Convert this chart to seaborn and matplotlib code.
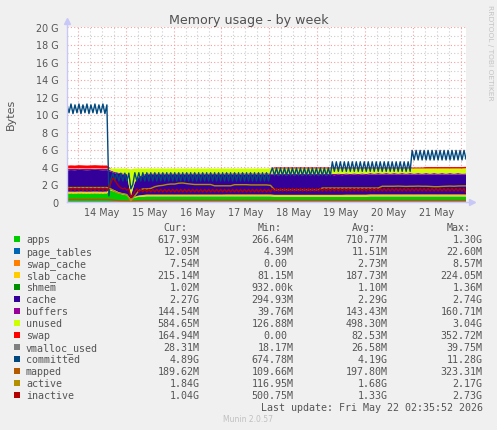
import numpy as np
import pandas as pd
import matplotlib
matplotlib.use("Agg")
import matplotlib.pyplot as plt
import matplotlib.dates as mdates
from matplotlib.patches import Rectangle
from matplotlib.ticker import FixedLocator, FixedFormatter, FuncFormatter
import seaborn as sns

# ------------------------------------------------------------------ data
start_time = "2026-05-13 18:35:52"   # week window: 200 hours ending at last update

# stacked areas, one value every 2 hours (GB)
apps = [
    0.95, 0.96, 0.95, 0.97, 0.96, 0.95, 0.96, 0.97, 0.96, 0.95,
    0.97, 1.30, 1.15, 0.95, 0.85, 0.75, 0.27, 0.50, 0.58, 0.60,
    0.64, 0.64, 0.64, 0.64, 0.64, 0.64, 0.64, 0.64, 0.64, 0.64,
    0.64, 0.64, 0.64, 0.64, 0.64, 0.64, 0.64, 0.64, 0.64, 0.64,
    0.64, 0.64, 0.64, 0.64, 0.64, 0.64, 0.64, 0.64, 0.64, 0.64,
    0.64, 0.64, 0.60, 0.60, 0.60, 0.60, 0.60, 0.60, 0.60, 0.60,
    0.60, 0.60, 0.60, 0.60, 0.60, 0.60, 0.60, 0.60, 0.60, 0.60,
    0.60, 0.60, 0.60, 0.60, 0.60, 0.60, 0.63, 0.63, 0.63, 0.63,
    0.63, 0.63, 0.63, 0.63, 0.63, 0.63, 0.63, 0.63, 0.63, 0.63,
    0.63, 0.63, 0.63, 0.63, 0.63, 0.63, 0.63, 0.63, 0.63, 0.63,
    0.62]
page_tables = [
    0.020, 0.020, 0.020, 0.020, 0.020, 0.020, 0.020, 0.020, 0.020, 0.020,
    0.020, 0.016, 0.014, 0.013, 0.012, 0.011, 0.005, 0.009, 0.011, 0.012,
    0.012, 0.012, 0.012, 0.012, 0.012, 0.012, 0.012, 0.012, 0.012, 0.012,
    0.012, 0.012, 0.012, 0.012, 0.012, 0.012, 0.012, 0.012, 0.012, 0.012,
    0.012, 0.012, 0.012, 0.012, 0.012, 0.012, 0.012, 0.012, 0.012, 0.012,
    0.012, 0.012, 0.012, 0.012, 0.012, 0.012, 0.012, 0.012, 0.012, 0.012,
    0.012, 0.012, 0.012, 0.012, 0.012, 0.012, 0.012, 0.012, 0.012, 0.012,
    0.012, 0.012, 0.012, 0.012, 0.012, 0.012, 0.012, 0.012, 0.012, 0.012,
    0.012, 0.012, 0.012, 0.012, 0.012, 0.012, 0.012, 0.012, 0.012, 0.012,
    0.012, 0.012, 0.012, 0.012, 0.012, 0.012, 0.012, 0.012, 0.012, 0.012,
    0.012]
swap_cache = [
    0.001, 0.001, 0.001, 0.001, 0.001, 0.001, 0.001, 0.001, 0.001, 0.001,
    0.001, 0.002, 0.003, 0.003, 0.004, 0.004, 0.003, 0.004, 0.005, 0.005,
    0.005, 0.005, 0.005, 0.005, 0.005, 0.005, 0.005, 0.005, 0.005, 0.005,
    0.005, 0.005, 0.005, 0.005, 0.005, 0.005, 0.005, 0.005, 0.005, 0.005,
    0.005, 0.005, 0.005, 0.005, 0.005, 0.005, 0.005, 0.005, 0.005, 0.005,
    0.005, 0.005, 0.005, 0.005, 0.005, 0.005, 0.005, 0.005, 0.005, 0.005,
    0.005, 0.005, 0.005, 0.005, 0.005, 0.005, 0.005, 0.005, 0.005, 0.005,
    0.005, 0.005, 0.005, 0.005, 0.005, 0.005, 0.005, 0.005, 0.005, 0.005,
    0.005, 0.005, 0.005, 0.005, 0.005, 0.005, 0.005, 0.005, 0.005, 0.005,
    0.006, 0.006, 0.006, 0.006, 0.006, 0.006, 0.006, 0.006, 0.006, 0.006,
    0.0075]
slab_cache = [
    0.20, 0.20, 0.20, 0.20, 0.20, 0.20, 0.20, 0.20, 0.20, 0.20,
    0.20, 0.19, 0.17, 0.15, 0.13, 0.12, 0.08, 0.10, 0.15, 0.18,
    0.19, 0.19, 0.19, 0.19, 0.19, 0.19, 0.19, 0.19, 0.19, 0.19,
    0.19, 0.19, 0.19, 0.19, 0.19, 0.19, 0.19, 0.19, 0.19, 0.19,
    0.20, 0.20, 0.20, 0.20, 0.20, 0.20, 0.20, 0.20, 0.20, 0.20,
    0.20, 0.20, 0.20, 0.20, 0.20, 0.20, 0.20, 0.20, 0.20, 0.20,
    0.20, 0.20, 0.20, 0.20, 0.20, 0.20, 0.20, 0.20, 0.20, 0.20,
    0.215, 0.215, 0.215, 0.215, 0.215, 0.215, 0.215, 0.215, 0.215, 0.215,
    0.215, 0.215, 0.215, 0.215, 0.215, 0.215, 0.215, 0.215, 0.215, 0.215,
    0.215, 0.215, 0.215, 0.215, 0.215, 0.215, 0.215, 0.215, 0.215, 0.215,
    0.215]
shmem = [
    0.001, 0.001, 0.001, 0.001, 0.001, 0.001, 0.001, 0.001, 0.001, 0.001,
    0.001, 0.001, 0.001, 0.001, 0.001, 0.001, 0.001, 0.001, 0.001, 0.001,
    0.001, 0.001, 0.001, 0.001, 0.001, 0.001, 0.001, 0.001, 0.001, 0.001,
    0.001, 0.001, 0.001, 0.001, 0.001, 0.001, 0.001, 0.001, 0.001, 0.001,
    0.001, 0.001, 0.001, 0.001, 0.001, 0.001, 0.001, 0.001, 0.001, 0.001,
    0.001, 0.001, 0.001, 0.001, 0.001, 0.001, 0.001, 0.001, 0.001, 0.001,
    0.001, 0.001, 0.001, 0.001, 0.001, 0.001, 0.001, 0.001, 0.001, 0.001,
    0.001, 0.001, 0.001, 0.001, 0.001, 0.001, 0.001, 0.001, 0.001, 0.001,
    0.001, 0.001, 0.001, 0.001, 0.001, 0.001, 0.001, 0.001, 0.001, 0.001,
    0.001, 0.001, 0.001, 0.001, 0.001, 0.001, 0.001, 0.001, 0.001, 0.001,
    0.001]
cache = [
    2.45, 2.47, 2.46, 2.48, 2.47, 2.46, 2.47, 2.48, 2.47, 2.46,
    2.45, 1.95, 1.95, 2.10, 2.15, 2.20, 0.30, 1.60, 2.05, 2.15,
    2.30, 2.24, 2.30, 2.24, 2.30, 2.24, 2.30, 2.24, 2.30, 2.24,
    2.30, 2.24, 2.30, 2.24, 2.30, 2.24, 2.30, 2.24, 2.30, 2.24,
    2.30, 2.24, 2.30, 2.24, 2.30, 2.24, 2.30, 2.24, 2.30, 2.24,
    2.30, 2.24, 2.30, 2.24, 2.30, 2.24, 2.30, 2.24, 2.30, 2.24,
    2.30, 2.24, 2.30, 2.24, 2.30, 2.24, 2.30, 2.24, 2.30, 2.24,
    2.30, 2.24, 2.30, 2.24, 2.30, 2.24, 2.30, 2.24, 2.30, 2.24,
    2.30, 2.24, 2.30, 2.24, 2.30, 2.24, 2.30, 2.24, 2.30, 2.24,
    2.30, 2.24, 2.30, 2.24, 2.30, 2.24, 2.30, 2.24, 2.30, 2.24,
    2.27]
buffers = [
    0.155, 0.155, 0.155, 0.155, 0.155, 0.155, 0.155, 0.155, 0.155, 0.155,
    0.155, 0.150, 0.140, 0.130, 0.120, 0.110, 0.040, 0.080, 0.120, 0.130,
    0.145, 0.145, 0.145, 0.145, 0.145, 0.145, 0.145, 0.145, 0.145, 0.145,
    0.145, 0.145, 0.145, 0.145, 0.145, 0.145, 0.145, 0.145, 0.145, 0.145,
    0.145, 0.145, 0.145, 0.145, 0.145, 0.145, 0.145, 0.145, 0.145, 0.145,
    0.145, 0.145, 0.145, 0.145, 0.145, 0.145, 0.145, 0.145, 0.145, 0.145,
    0.145, 0.145, 0.145, 0.145, 0.145, 0.145, 0.145, 0.145, 0.145, 0.145,
    0.145, 0.145, 0.145, 0.145, 0.145, 0.145, 0.145, 0.145, 0.145, 0.145,
    0.145, 0.145, 0.145, 0.145, 0.145, 0.145, 0.145, 0.145, 0.145, 0.145,
    0.145, 0.145, 0.145, 0.145, 0.145, 0.145, 0.145, 0.145, 0.145, 0.145,
    0.145]
unused = [
    0.05, 0.05, 0.05, 0.05, 0.05, 0.05, 0.05, 0.05, 0.05, 0.05,
    0.05, 0.22, 0.40, 0.48, 0.56, 0.63, 3.04, 1.54, 0.91, 0.75,
    0.54, 0.60, 0.54, 0.60, 0.54, 0.60, 0.54, 0.60, 0.54, 0.60,
    0.54, 0.60, 0.54, 0.60, 0.54, 0.60, 0.54, 0.60, 0.54, 0.60,
    0.53, 0.59, 0.53, 0.59, 0.53, 0.59, 0.53, 0.59, 0.53, 0.59,
    0.53, 0.59, 0.57, 0.63, 0.57, 0.63, 0.57, 0.63, 0.57, 0.63,
    0.57, 0.63, 0.57, 0.63, 0.57, 0.63, 0.57, 0.63, 0.57, 0.63,
    0.55, 0.61, 0.55, 0.61, 0.55, 0.61, 0.52, 0.58, 0.52, 0.58,
    0.52, 0.58, 0.52, 0.58, 0.52, 0.58, 0.52, 0.58, 0.52, 0.58,
    0.52, 0.58, 0.52, 0.58, 0.52, 0.58, 0.52, 0.58, 0.52, 0.58,
    0.585]
swap = [
    0.33, 0.33, 0.33, 0.33, 0.33, 0.33, 0.33, 0.33, 0.33, 0.33,
    0.33, 0.00, 0.00, 0.00, 0.00, 0.00, 0.00, 0.00, 0.00, 0.00,
    0.00, 0.00, 0.00, 0.00, 0.00, 0.00, 0.00, 0.00, 0.00, 0.00,
    0.00, 0.00, 0.00, 0.00, 0.00, 0.00, 0.00, 0.00, 0.00, 0.00,
    0.00, 0.00, 0.00, 0.00, 0.00, 0.00, 0.00, 0.00, 0.00, 0.00,
    0.00, 0.00, 0.12, 0.12, 0.12, 0.12, 0.12, 0.12, 0.12, 0.12,
    0.12, 0.12, 0.12, 0.12, 0.12, 0.12, 0.12, 0.12, 0.12, 0.12,
    0.12, 0.12, 0.12, 0.12, 0.12, 0.12, 0.12, 0.12, 0.12, 0.12,
    0.12, 0.12, 0.12, 0.12, 0.12, 0.12, 0.12, 0.12, 0.12, 0.12,
    0.165, 0.165, 0.165, 0.165, 0.165, 0.165, 0.165, 0.165, 0.165, 0.165,
    0.165]

# lines, one value every 2 hours (GB)
vmalloc_used = [
    0.028, 0.028, 0.028, 0.028, 0.028, 0.028, 0.028, 0.028, 0.028, 0.028,
    0.030, 0.030, 0.025, 0.020, 0.020, 0.019, 0.018, 0.020, 0.025, 0.026,
    0.026, 0.026, 0.026, 0.026, 0.026, 0.026, 0.026, 0.026, 0.026, 0.026,
    0.026, 0.026, 0.026, 0.026, 0.026, 0.026, 0.026, 0.026, 0.026, 0.026,
    0.026, 0.026, 0.026, 0.026, 0.026, 0.026, 0.026, 0.026, 0.026, 0.026,
    0.027, 0.027, 0.027, 0.027, 0.027, 0.027, 0.027, 0.027, 0.027, 0.027,
    0.027, 0.027, 0.027, 0.027, 0.027, 0.027, 0.027, 0.027, 0.027, 0.027,
    0.027, 0.027, 0.027, 0.027, 0.027, 0.027, 0.027, 0.027, 0.027, 0.027,
    0.028, 0.028, 0.028, 0.028, 0.028, 0.028, 0.028, 0.028, 0.028, 0.028,
    0.028, 0.028, 0.028, 0.028, 0.028, 0.028, 0.028, 0.028, 0.028, 0.028,
    0.028]
mapped = [
    0.30, 0.30, 0.31, 0.30, 0.30, 0.31, 0.30, 0.30, 0.31, 0.30,
    0.30, 0.25, 0.20, 0.15, 0.13, 0.12, 0.11, 0.12, 0.15, 0.17,
    0.19, 0.19, 0.20, 0.20, 0.20, 0.20, 0.20, 0.20, 0.20, 0.20,
    0.20, 0.20, 0.20, 0.20, 0.20, 0.20, 0.20, 0.20, 0.20, 0.20,
    0.20, 0.20, 0.20, 0.20, 0.20, 0.20, 0.20, 0.20, 0.20, 0.20,
    0.20, 0.20, 0.19, 0.19, 0.19, 0.19, 0.19, 0.19, 0.19, 0.19,
    0.19, 0.19, 0.19, 0.19, 0.19, 0.19, 0.19, 0.19, 0.19, 0.19,
    0.19, 0.19, 0.19, 0.19, 0.19, 0.19, 0.19, 0.19, 0.19, 0.19,
    0.19, 0.19, 0.19, 0.19, 0.19, 0.19, 0.19, 0.19, 0.19, 0.19,
    0.19, 0.19, 0.19, 0.19, 0.19, 0.19, 0.19, 0.19, 0.19, 0.19,
    0.19]
active = [
    1.65, 1.65, 1.65, 1.65, 1.65, 1.65, 1.65, 1.65, 1.65, 1.65,
    1.65, 1.50, 1.20, 1.00, 0.95, 0.85, 0.12, 0.70, 1.30, 1.50,
    1.50, 1.55, 1.75, 1.85, 1.90, 2.00, 2.05, 2.05, 2.15, 2.17,
    2.10, 2.05, 2.00, 2.00, 2.00, 2.00, 2.00, 1.85, 1.85, 1.85,
    1.85, 1.85, 1.98, 1.98, 1.98, 1.98, 1.95, 1.95, 1.95, 1.95,
    1.95, 1.90, 1.40, 1.40, 1.40, 1.40, 1.40, 1.40, 1.40, 1.40,
    1.40, 1.40, 1.40, 1.40, 1.60, 1.60, 1.60, 1.60, 1.60, 1.60,
    1.60, 1.60, 1.60, 1.60, 1.60, 1.60, 1.60, 1.60, 1.60, 1.80,
    1.80, 1.80, 1.80, 1.82, 1.80, 1.78, 1.80, 1.80, 1.82, 1.80,
    1.80, 1.78, 1.75, 1.75, 1.78, 1.80, 1.82, 1.80, 1.83, 1.84,
    1.84]

# lines, one value every hour (GB)
committed = [
    11.1, 10.2, 11.2, 10.1, 11.1, 10.2, 11.2, 10.1, 11.1, 10.2,
    11.2, 10.1, 11.1, 10.2, 11.2, 10.1, 11.1, 10.2, 11.2, 10.1,
    11.1, 0.70, 2.60, 3.30, 2.40, 3.30, 2.40, 3.30, 2.40, 3.30,
    2.40, 3.30, 1.50, 2.00, 3.35, 2.40, 3.35, 2.40, 3.35, 2.40,
    3.35, 2.40, 3.35, 2.40, 3.35, 2.40, 3.35, 2.40, 3.35, 2.40,
    3.35, 2.40, 3.35, 2.40, 3.35, 2.40, 3.35, 2.40, 3.35, 2.40,
    3.35, 2.40, 3.35, 2.40, 3.35, 2.40, 3.35, 2.40, 3.35, 2.40,
    3.35, 2.40, 3.35, 2.40, 3.35, 2.40, 3.35, 2.40, 3.35, 2.40,
    3.35, 2.40, 3.35, 2.40, 3.35, 2.40, 3.35, 2.40, 3.35, 2.40,
    3.35, 2.40, 3.35, 2.40, 3.35, 2.40, 3.35, 2.40, 3.35, 2.40,
    3.35, 2.40, 3.35, 3.90, 3.00, 3.90, 3.00, 3.90, 3.00, 3.90,
    3.00, 3.90, 3.00, 3.90, 3.00, 3.90, 3.00, 3.90, 3.00, 3.90,
    3.00, 3.90, 3.00, 3.90, 3.00, 3.90, 3.00, 3.90, 3.00, 3.90,
    3.00, 3.90, 3.00, 4.60, 3.50, 4.60, 3.50, 4.60, 3.50, 4.60,
    3.50, 4.60, 3.50, 4.60, 3.50, 4.60, 3.50, 4.60, 3.50, 4.60,
    3.50, 4.60, 3.50, 4.60, 3.50, 4.60, 3.50, 4.60, 3.50, 4.60,
    3.50, 4.60, 3.50, 4.60, 3.50, 4.60, 3.50, 4.60, 3.50, 4.60,
    3.50, 4.60, 3.50, 5.90, 4.80, 5.90, 4.80, 5.90, 4.80, 5.90,
    4.80, 5.90, 4.80, 5.90, 4.80, 5.90, 4.80, 5.90, 4.80, 5.90,
    4.80, 5.90, 4.80, 5.90, 4.80, 5.90, 4.80, 5.90, 4.80, 5.90,
    4.89]
inactive = [
    1.30, 1.60, 1.30, 1.60, 1.30, 1.60, 1.30, 1.60, 1.30, 1.60,
    1.30, 1.60, 1.30, 1.60, 1.30, 1.60, 1.30, 1.60, 1.30, 1.60,
    1.30, 1.60, 2.20, 2.73, 2.50, 2.10, 1.80, 1.60, 1.50, 1.60,
    1.35, 1.50, 0.50, 0.80, 1.20, 1.50, 1.15, 1.45, 1.15, 1.45,
    1.15, 1.45, 1.15, 1.45, 1.15, 1.45, 1.15, 1.45, 1.15, 1.45,
    1.15, 1.45, 1.15, 1.45, 1.15, 1.45, 1.15, 1.45, 1.15, 1.45,
    1.15, 1.45, 1.15, 1.45, 1.15, 1.45, 1.15, 1.45, 1.15, 1.45,
    1.15, 1.45, 1.15, 1.45, 1.15, 1.45, 1.15, 1.45, 1.15, 1.45,
    1.15, 1.45, 1.15, 1.45, 1.15, 1.45, 1.15, 1.45, 1.15, 1.45,
    1.15, 1.45, 1.15, 1.45, 1.15, 1.45, 1.15, 1.45, 1.15, 1.45,
    1.15, 1.45, 1.15, 1.55, 1.25, 1.55, 1.25, 1.55, 1.25, 1.55,
    1.25, 1.55, 1.25, 1.55, 1.25, 1.55, 1.25, 1.55, 1.25, 1.55,
    1.25, 1.55, 1.25, 1.55, 1.25, 1.55, 1.25, 1.55, 1.25, 1.55,
    1.25, 1.55, 1.25, 1.55, 1.25, 1.55, 1.25, 1.55, 1.25, 1.55,
    1.25, 1.55, 1.25, 1.55, 1.25, 1.55, 1.25, 1.55, 1.25, 1.55,
    1.25, 1.55, 1.25, 1.55, 1.25, 1.55, 1.25, 1.55, 1.25, 1.55,
    1.25, 1.55, 1.25, 1.55, 1.25, 1.55, 1.25, 1.55, 1.25, 1.55,
    1.25, 1.55, 1.25, 1.55, 1.25, 1.55, 1.25, 1.55, 1.25, 1.55,
    1.25, 1.55, 1.25, 1.55, 1.25, 1.55, 1.25, 1.55, 1.25, 1.55,
    1.25, 1.55, 1.25, 1.55, 1.25, 1.55, 1.25, 1.55, 1.25, 1.55,
    1.04]

# legend table
series_names = ["apps", "page_tables", "swap_cache", "slab_cache", "shmem", "cache",
                "buffers", "unused", "swap", "vmalloc_used", "committed", "mapped",
                "active", "inactive"]
series_colors = ["#00CC00", "#0066B3", "#FF8000", "#FFCC00", "#008F00", "#330099",
                 "#990099", "#CCFF00", "#FF0000", "#808080", "#00487D", "#B35A00",
                 "#B38F00", "#B30000"]
cur_vals = ["617.93M", "12.05M", "7.54M", "215.14M", "1.02M", "2.27G", "144.54M",
            "584.65M", "164.94M", "28.31M", "4.89G", "189.62M", "1.84G", "1.04G"]
min_vals = ["266.64M", "4.39M", "0.00", "81.15M", "932.00k", "294.93M", "39.76M",
            "126.88M", "0.00", "18.17M", "674.78M", "109.66M", "116.95M", "500.75M"]
avg_vals = ["710.77M", "11.51M", "2.73M", "187.73M", "1.10M", "2.29G", "143.43M",
            "498.30M", "82.53M", "26.58M", "4.19G", "197.80M", "1.68G", "1.33G"]
max_vals = ["1.30G", "22.60M", "8.57M", "224.05M", "1.36M", "2.74G", "160.71M",
            "3.04G", "352.72M", "39.75M", "11.28G", "323.31M", "2.17G", "2.73G"]
ytick_values = [0, 2, 4, 6, 8, 10, 12, 14, 16, 18, 20]
ytick_labels = ["0", "2 G", "4 G", "6 G", "8 G", "10 G", "12 G", "14 G", "16 G", "18 G", "20 G"]

# ------------------------------------------------------------------ figure
sns.set_theme(style="white")
plt.rcParams["font.family"] = ["DejaVu Sans"]

W, H = 497, 431
def fx(px):
    return px / W
def fy(py):
    return 1 - py / H

fig = plt.figure(figsize=(W / 100, H / 100), dpi=100, facecolor="#F0F0F0")
ax = fig.add_axes([fx(67), fy(203), 399 / W, 175 / H])
ax.set_facecolor("white")

t2 = pd.date_range(start_time, periods=len(apps), freq="2h")
t1 = pd.date_range(start_time, periods=len(committed), freq="h")

stack = [apps, page_tables, swap_cache, slab_cache, shmem, cache, buffers, unused, swap]
ax.stackplot(t2, *stack, colors=series_colors[:9], linewidth=0, edgecolor="none", zorder=2)

line_data = [(t2, vmalloc_used, series_colors[9]),
             (t1, committed, series_colors[10]),
             (t2, mapped, series_colors[11]),
             (t2, active, series_colors[12]),
             (t1, inactive, series_colors[13])]
for tt, vals, col in line_data:
    sns.lineplot(x=tt, y=vals, color=col, linewidth=1.0, ax=ax, estimator=None,
                 legend=False, zorder=3)

ax.set_xlabel("")
ax.set_ylabel("")
t_end = t1[-1]
ax.set_xlim(pd.Timestamp(start_time), t_end)
ax.set_ylim(0, 20)

# y axis
ax.yaxis.set_major_locator(FixedLocator(ytick_values))
ax.yaxis.set_major_formatter(FixedFormatter(ytick_labels))
ax.yaxis.set_minor_locator(FixedLocator(list(range(0, 21))))

# x axis: midnight major grid, 6h minor grid, labels at noon
major_days = mdates.date2num(pd.date_range("2026-05-14", "2026-05-22", freq="D").to_pydatetime())
minor_6h = mdates.date2num(pd.date_range("2026-05-13 18:00", "2026-05-22 00:00", freq="6h").to_pydatetime())
ax.xaxis.set_major_locator(FixedLocator(major_days))
ax.xaxis.set_major_formatter(FuncFormatter(lambda v, p: ""))
ax.xaxis.set_minor_locator(FixedLocator(minor_6h))

def noon_label(v, p):
    frac = round((v % 1) * 24)
    if frac == 12:
        d = mdates.num2date(v)
        return f"{d.day} {d.strftime('%b')}"
    return ""
ax.xaxis.set_minor_formatter(FuncFormatter(noon_label))

ax.set_axisbelow(True)
ax.grid(which="major", color="#F2A0A0", linestyle=(0, (1, 2)), linewidth=0.8, zorder=0)
ax.grid(which="minor", color="#CCCCCC", linestyle=(0, (1, 2)), linewidth=0.8, zorder=0)

ax.tick_params(axis="both", which="both", length=0, colors="#555555", labelsize=6.9)
ax.tick_params(axis="y", which="major", length=2, color="#F0A0A0", direction="inout", pad=5.0)
ax.tick_params(axis="x", which="minor", pad=3.5)
for lab in ax.get_yticklabels():
    lab.set_color("#555555")

for s in ["top", "right"]:
    ax.spines[s].set_visible(False)
for s in ["left", "bottom"]:
    ax.spines[s].set_color("#C8C8F8")
    ax.spines[s].set_linewidth(1.0)
    ax.spines[s].set_zorder(5)

# axis arrows
ax.plot([0, 0], [1.0, 1.03], transform=ax.transAxes, color="#C8C8F8", lw=1.0, clip_on=False)
ax.plot([0], [1.035], transform=ax.transAxes, marker="^", ms=5, color="#C8C8F8", clip_on=False)
ax.plot([1.0, 1.012], [0, 0], transform=ax.transAxes, color="#C8C8F8", lw=1.0, clip_on=False)
ax.plot([1.015], [0], transform=ax.transAxes, marker=">", ms=5, color="#C8C8F8", clip_on=False)

# texts
fig.text(fx(249), fy(24), "Memory usage - by week", ha="center", va="baseline",
         fontsize=9.1, color="#505050")
fig.text(fx(10.5), fy(114), "Bytes", rotation=90, ha="center", va="center",
         fontsize=8.0, color="#555555")
fig.text(fx(490), fy(53), "RRDTOOL / TOBI OETIKER", rotation=270, ha="center", va="center",
         fontsize=5.4, color="#C4C4C4")

mono = dict(family="DejaVu Sans Mono", fontsize=7.2, color="#555555", va="baseline")
col_right = [199.3, 293.3, 387.7, 482.7]
char_w = 6.02
headers = ["Cur:", "Min:", "Avg:", "Max:"]
for h, r in zip(headers, col_right):
    fig.text(fx(r - 2 * char_w), fy(231), h, ha="right", **mono)

for k, name in enumerate(series_names):
    cy = 239.7 + 12 * k
    base = cy + 3.0
    fig.add_artist(Rectangle((fx(14), fy(cy + 3)), 6 / W, 6 / H, transform=fig.transFigure,
                             facecolor=series_colors[k], edgecolor="none"))
    fig.text(fx(26), fy(base), name, ha="left", **mono)
    for vals, r in zip([cur_vals, min_vals, avg_vals, max_vals], col_right):
        s = vals[k]
        rr = r - char_w if s[-1].isdigit() else r
        fig.text(fx(rr), fy(base), s, ha="right", **mono)

fig.text(fx(482.7), fy(410.7), "Last update: Fri May 22 02:35:52 2026", ha="right", **mono)
fig.text(fx(248), fy(422.5), "Munin 2.0.57", ha="center", va="baseline",
         fontsize=5.5, color="#C0C0C0")

fig.savefig("out.png", dpi=100, facecolor=fig.get_facecolor())
